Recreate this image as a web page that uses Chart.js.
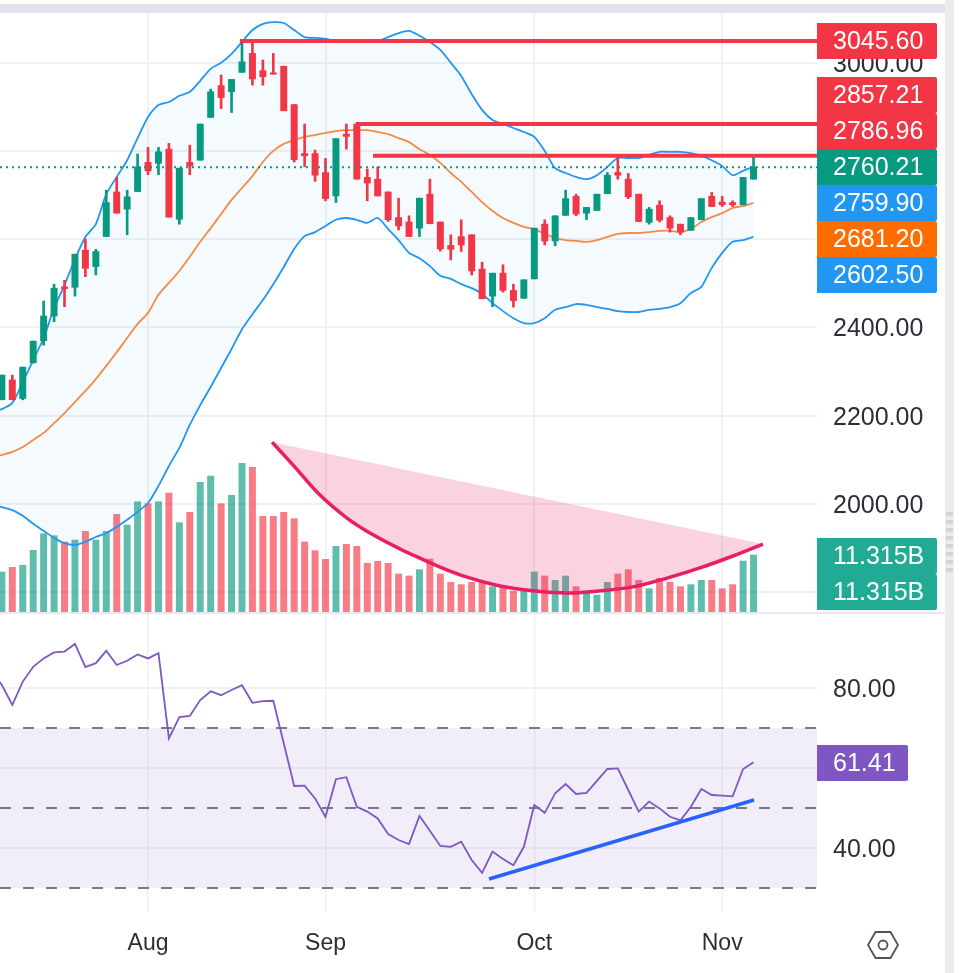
<!DOCTYPE html>
<html>
<head>
<meta charset="utf-8">
<title>Chart</title>
<script src="https://cdn.jsdelivr.net/npm/chart.js@4"></script>
<style>
    html, body { margin: 0; padding: 0; background: #fff; }
    body { position: relative; width: 960px; height: 973px; overflow: hidden; }
    #topBar { position: absolute; left: 0; top: 4px; width: 945px; height: 9px; background: #e0e3eb; }
    #separator { position: absolute; left: 0; top: 612px; width: 945px; height: 2px; background: #e6e8f0; }
    #scrollBar { position: absolute; left: 945px; top: 0; width: 9px; height: 973px; background: #ececec; }
    #scrollGrip { position: absolute; left: 946px; top: 512px; width: 7px; height: 64px;
        background: repeating-linear-gradient(#d5d5d5 0 4px, #ececec 4px 8px); }
    #priceChart { position: absolute; left: 0; top: 13px; }
    #rsiChart { position: absolute; left: 0; top: 613px; }
    #settings { position: absolute; left: 867px; top: 929px; }
</style>
</head>
<body>
<div id="topBar"></div>
<canvas id="priceChart" width="945" height="599"></canvas>
<canvas id="rsiChart" width="945" height="360"></canvas>
<div id="separator"></div>
<div id="scrollBar"></div>
<div id="scrollGrip"></div>
<svg id="settings" width="32" height="32" viewBox="0 0 32 32">
    <path d="M 1,16 L 8.5,3 L 23.5,3 L 31,16 L 23.5,29 L 8.5,29 Z" fill="none" stroke="#50535e" stroke-width="1.8"/>
    <circle cx="16" cy="16" r="4.5" fill="none" stroke="#50535e" stroke-width="1.8"/>
</svg>
<script>
const GREEN = '#089981';
const RED = '#f23645';
const BLUE = '#2196f3';
const FIRST_BAR = -15; // bar 0 = 1 Aug, bar -15 sits just off the left edge
const X_MIN = -14.18;
const X_MAX = 64.08;
const MONTHS = { 0: 'Aug', 17: 'Sep', 37: 'Oct', 55: 'Nov' };
const TICK_FONT = { family: 'Liberation Sans', size: 25 };

// --- DATA ---
// open, high, low, close
const candles = [
    [2290, 2300, 2250, 2270],
    [2236, 2292, 2236, 2292], [2281, 2292, 2236, 2236], [2239, 2310, 2236, 2310], [2320, 2369, 2319, 2369],
    [2370, 2460, 2360, 2426], [2426, 2498, 2413, 2489], [2492, 2507, 2447, 2488], [2491, 2566, 2471, 2566],
    [2575, 2600, 2515, 2534], [2538, 2577, 2519, 2572], [2606, 2711, 2606, 2683], [2707, 2740, 2659, 2659],
    [2668, 2711, 2610, 2696], [2708, 2793, 2708, 2764], [2774, 2808, 2746, 2755], [2772, 2808, 2746, 2798],
    [2804, 2817, 2650, 2650], [2645, 2761, 2634, 2761], [2774, 2813, 2746, 2766], [2779, 2861, 2779, 2861],
    [2876, 2940, 2876, 2934], [2948, 2972, 2896, 2921], [2934, 2962, 2887, 2962], [2978, 3050, 2978, 3002],
    [3021, 3049, 2949, 2963], [2982, 3006, 2949, 2968], [2977, 3021, 2974, 2974], [2992, 2992, 2891, 2891],
    [2905, 2905, 2775, 2780], [2794, 2861, 2764, 2789], [2794, 2802, 2731, 2745], [2751, 2783, 2687, 2692],
    [2698, 2828, 2683, 2828], [2838, 2861, 2804, 2833], [2861, 2861, 2736, 2736], [2740, 2759, 2687, 2727],
    [2736, 2764, 2698, 2698], [2707, 2707, 2640, 2644], [2649, 2693, 2621, 2630], [2639, 2653, 2606, 2606],
    [2625, 2693, 2606, 2693], [2702, 2736, 2635, 2635], [2639, 2639, 2573, 2578], [2586, 2610, 2553, 2577],
    [2606, 2644, 2572, 2587], [2610, 2610, 2519, 2528], [2532, 2548, 2465, 2465], [2471, 2523, 2447, 2523],
    [2523, 2542, 2480, 2484], [2484, 2498, 2446, 2461], [2466, 2508, 2466, 2508], [2510, 2625, 2510, 2625],
    [2634, 2644, 2587, 2596], [2596, 2653, 2585, 2653], [2654, 2711, 2654, 2692], [2697, 2702, 2653, 2657],
    [2659, 2672, 2644, 2672], [2665, 2702, 2665, 2702], [2703, 2751, 2703, 2745], [2751, 2787, 2736, 2745],
    [2736, 2749, 2692, 2696], [2702, 2702, 2640, 2640], [2638, 2672, 2634, 2668], [2677, 2687, 2639, 2643],
    [2649, 2653, 2616, 2625], [2634, 2634, 2610, 2616], [2620, 2649, 2620, 2649], [2644, 2692, 2644, 2692],
    [2697, 2706, 2674, 2674], [2684, 2697, 2674, 2678], [2683, 2687, 2674, 2678], [2678, 2740, 2678, 2740],
    [2736, 2786, 2736, 2764]
];

// in billions
const volumes = [
    7.5,
    7.94, 8.87, 9.26, 12.24, 15.55, 15.15, 13.9, 14.29, 16.01, 14.29, 16.01, 19.39, 17.27, 21.9, 21.5, 21.9,
    23.62, 17.73, 19.78, 25.74, 27, 21.5, 23.16, 29.51, 28.72, 18.99, 18.99, 19.78, 18.53, 13.9, 12.18, 10.45,
    13.04, 13.43, 13.04, 9.66, 10.06, 9.66, 7.54, 7.15, 8.4, 10.52, 7.54, 5.89, 5.43, 5.89, 5.89, 5.03,
    5.03, 4.17, 4.17, 7.94, 7.15, 6.29, 7.15, 5.03, 4.17, 3.37, 5.89, 7.54, 8.4, 6.29, 4.63, 6.68,
    5.89, 5.03, 5.43, 6.29, 6.29, 4.63, 5.43, 10.12, 11.315
];

const bbUpper = [
    2208,
    2215, 2229, 2276, 2326, 2376, 2444, 2496, 2555, 2605, 2634, 2702, 2741, 2779, 2829, 2877, 2904,
    2911, 2925, 2934, 2959, 2986, 3000, 3020, 3047, 3074, 3088, 3092, 3090, 3074, 3058, 3056, 3054,
    3049, 3049, 3049, 3047, 3049, 3058, 3067, 3072, 3061, 3047, 3029, 3000, 2970, 2929, 2893, 2870,
    2861, 2852, 2843, 2832, 2800, 2761, 2750, 2741, 2736, 2745, 2764, 2784, 2784, 2784, 2791, 2798,
    2798, 2798, 2795, 2789, 2779, 2766, 2745, 2755, 2764
];
const bbMiddle = [
    2105,
    2111, 2118, 2129, 2145, 2161, 2183, 2206, 2231, 2256, 2283, 2313, 2344, 2376, 2408, 2433, 2474,
    2501, 2528, 2560, 2594, 2625, 2657, 2689, 2716, 2743, 2775, 2800, 2816, 2825, 2832, 2836, 2841,
    2845, 2847, 2847, 2847, 2843, 2838, 2829, 2820, 2804, 2791, 2773, 2750, 2730, 2707, 2684, 2664,
    2648, 2637, 2628, 2623, 2612, 2603, 2598, 2596, 2594, 2598, 2605, 2612, 2614, 2614, 2616, 2619,
    2619, 2616, 2623, 2639, 2650, 2659, 2671, 2675, 2682
];
const bbLower = [
    1998,
    1993, 1986, 1973, 1955, 1939, 1923, 1911, 1907, 1914, 1925, 1934, 1948, 1964, 1982, 2002, 2041,
    2086, 2127, 2179, 2224, 2265, 2308, 2351, 2396, 2430, 2462, 2498, 2537, 2578, 2607, 2616, 2630,
    2644, 2648, 2644, 2637, 2648, 2623, 2598, 2569, 2557, 2539, 2517, 2510, 2498, 2489, 2476, 2455,
    2437, 2421, 2410, 2410, 2421, 2440, 2446, 2453, 2451, 2446, 2442, 2437, 2435, 2435, 2440, 2442,
    2446, 2455, 2478, 2492, 2535, 2569, 2594, 2598, 2605
];

const rsi = [
    84,
    80.75, 75.75, 81.6, 85.3, 87.4, 88.9, 89.1, 91, 85.2, 86.2, 89.3, 85.75, 86.8, 88.4, 87.4, 88.7,
    67.4, 72.7, 73, 77, 79.2, 78.2, 79.5, 80.7, 76.3, 76.7, 76.8, 66.2, 55.5, 55.6, 52.4, 47.8,
    57.2, 57.7, 50.3, 49.1, 47.4, 43.5, 42, 41, 48, 44.3, 40.5, 40.3, 41.6, 37, 33.8, 39.1,
    37.25, 35.7, 40.3, 50.75, 48.8, 53.7, 56, 53.5, 53.8, 56.8, 59.75, 59.9, 54.5, 49.1, 51.6, 49.9,
    47.8, 46.9, 50.3, 54.75, 53.25, 53.1, 52.9, 59.75, 61.41
];

// hand drawn objects on the chart: [bar, value]
const resistanceLines = [
    { from: 8.8, value: 3049 },
    { from: 19.9, value: 2861 },
    { from: 21.55, value: 2789 }
];
const cupCurve = [
    [11.88, 2140], [13.9, 2088], [16.47, 2020], [19.06, 1968], [21.55, 1930], [24.14, 1898], [26.05, 1877],
    [27.97, 1857], [30.56, 1834], [33.72, 1814], [36.88, 1803], [40.13, 1798], [43.3, 1803], [46.46, 1812],
    [49.71, 1832], [52.87, 1855], [56.03, 1882], [58.9, 1909]
];
const rsiTrend = [[32.66, 32.25], [58.05, 52]];

// price tags on the axis, y = page pixel of the top edge
const priceTags = [
    { text: '3045.60', y: 23, color: RED },
    { text: '2857.21', y: 77, color: RED },
    { text: '2786.96', y: 113, color: RED },
    { text: '2760.21', y: 149, color: GREEN },
    { text: '2759.90', y: 185, color: BLUE },
    { text: '2681.20', y: 221, color: '#ff6d00' },
    { text: '2602.50', y: 257, color: BLUE },
    { text: '11.315B', y: 538, color: '#22ab94' },
    { text: '11.315B', y: 574, color: '#22ab94' }
];
const rsiTags = [{ text: '61.41', y: 745, color: '#7e57c2', width: 91 }];

// --- HELPERS ---
const barX = (i) => FIRST_BAR + i;
const series = (values) => values.map((v, i) => ({ x: barX(i), y: v }));
const candleColor = (c) => (c[3] >= c[0] ? GREEN : RED);
const pairs = (list) => list.map(p => ({ x: p[0], y: p[1] }));
const flatLine = (value) => [{ x: X_MIN, y: value }, { x: X_MAX, y: value }];

function lineSet(data, color, width, extra) {
    return Object.assign({
        type: 'line', data: data, borderColor: color, borderWidth: width,
        pointRadius: 0, fill: false, order: 1, clip: true
    }, extra);
}

function tagPlugin(tags, pageTop) {
    return {
        id: 'axisTags',
        afterDraw(chart) {
            const ctx = chart.ctx;
            const left = chart.chartArea.right;
            ctx.save();
            tags.forEach(tag => {
                ctx.fillStyle = tag.color;
                ctx.beginPath();
                ctx.roundRect(left, tag.y - pageTop, tag.width || 120, 36, [0, 2, 2, 0]);
                ctx.fill();
                ctx.fillStyle = '#fff';
                ctx.font = '25px "Liberation Sans"';
                ctx.textBaseline = 'middle';
                ctx.fillText(tag.text, left + 16, tag.y - pageTop + 19);
            });
            ctx.restore();
        }
    };
}

function monthTicks(scale) {
    scale.ticks = Object.keys(MONTHS).map(k => ({ value: Number(k) }));
}

// fixed axis strip, and no label overhang taken out of the plot height
function fitRightAxis(scale) {
    scale.width = 128;
    scale.paddingTop = 0;
    scale.paddingBottom = 0;
}

function baseOptions(scales) {
    return {
        responsive: false,
        animation: false,
        events: [],
        layout: { padding: 0 },
        plugins: { legend: { display: false }, tooltip: { enabled: false } },
        scales: scales
    };
}

// --- PRICE + VOLUME PANE ---
new Chart(document.getElementById('priceChart'), {
    type: 'bar',
    data: {
        datasets: [
            lineSet(series(bbUpper), BLUE, 1.8, {
                fill: '+2', backgroundColor: 'rgba(33,150,243,0.05)', tension: 0.25, order: 5
            }),
            lineSet(series(bbMiddle), '#ff8a3c', 1.8, { tension: 0.25, order: 5 }),
            lineSet(series(bbLower), BLUE, 1.8, { tension: 0.25, order: 5 }),
            {
                data: volumes.map((v, i) => ({ x: barX(i), y: v })),
                yAxisID: 'yVolume',
                backgroundColor: candles.map(c => candleColor(c) === GREEN ? 'rgba(8,153,129,0.65)' : 'rgba(242,54,69,0.65)'),
                barThickness: 6.3,
                grouped: false,
                order: 6
            },
            {
                data: candles.map((c, i) => ({ x: barX(i), y: [c[2], c[1]] })),
                backgroundColor: candles.map(candleColor),
                barThickness: 2,
                grouped: false,
                order: 3
            },
            {
                data: candles.map((c, i) => ({ x: barX(i), y: [c[0], c[3]] })),
                backgroundColor: candles.map(candleColor),
                barThickness: 6.3,
                grouped: false,
                order: 2
            },
            lineSet(flatLine(2763), GREEN, 2, { borderDash: [2, 4] }),
            ...resistanceLines.map(l => lineSet([{ x: l.from, y: l.value }, { x: X_MAX, y: l.value }], RED, 4)),
            lineSet(pairs(cupCurve), 'rgba(0,0,0,0)', 0, { fill: 'shape', backgroundColor: 'rgba(233,30,99,0.2)', cubicInterpolationMode: 'monotone' }),
            lineSet(pairs(cupCurve), '#e91e63', 3.5, { cubicInterpolationMode: 'monotone' })
        ]
    },
    options: baseOptions({
        x: {
            type: 'linear', min: X_MIN, max: X_MAX, offset: false,
            afterBuildTicks: monthTicks,
            afterFit: (scale) => { scale.height = 0; },
            grid: { color: '#f0f1f5', lineWidth: 2, offset: false, drawTicks: false },
            border: { display: false },
            ticks: { display: false }
        },
        y: {
            type: 'linear', position: 'right', min: 1755.1, max: 3112.6,
            afterBuildTicks: (scale) => {
                scale.ticks = [1800, 2000, 2200, 2400, 2600, 2800, 3000].map(v => ({ value: v }));
            },
            afterFit: fitRightAxis,
            grid: { color: '#f0f1f5', lineWidth: 2, drawTicks: false },
            border: { display: false },
            ticks: {
                color: '#2a2e39', font: TICK_FONT, padding: 16, labelOffset: 2,
                callback: (v) => ([1800, 2600, 2800].includes(v) ? '' : v.toFixed(2))
            }
        },
        yVolume: { display: false, min: 0, max: 118.9 }
    }),
    plugins: [tagPlugin(priceTags, 13)]
});

// --- RSI PANE ---
new Chart(document.getElementById('rsiChart'), {
    type: 'line',
    data: {
        datasets: [
            lineSet(flatLine(70), '#787b86', 1.8, {
                borderDash: [11, 12], fill: '+2', backgroundColor: 'rgba(126,87,194,0.1)', order: 3
            }),
            lineSet(flatLine(50), '#787b86', 1.8, { borderDash: [11, 12], order: 3 }),
            lineSet(flatLine(30), '#787b86', 1.8, { borderDash: [11, 12], order: 3 }),
            lineSet(series(rsi), '#7e57c2', 1.8, { order: 2 }),
            lineSet(pairs(rsiTrend), '#2962ff', 3.5)
        ]
    },
    options: baseOptions({
        x: {
            type: 'linear', min: X_MIN, max: X_MAX,
            afterBuildTicks: monthTicks,
            afterFit: (scale) => { scale.height = 61; },
            grid: { color: '#f0f1f5', lineWidth: 1.5, drawTicks: false },
            border: { display: false },
            ticks: {
                color: '#2a2e39', font: { family: 'Liberation Sans', size: 23 }, padding: 18,
                maxRotation: 0, autoSkip: false,
                callback: (v) => MONTHS[v]
            }
        },
        y: {
            type: 'linear', position: 'right', min: 24, max: 98.75,
            afterBuildTicks: (scale) => {
                scale.ticks = [40, 60, 80].map(v => ({ value: v }));
            },
            afterFit: fitRightAxis,
            grid: { color: '#f0f1f5', lineWidth: 2, drawTicks: false },
            border: { display: false },
            ticks: {
                color: '#2a2e39', font: TICK_FONT, padding: 16, labelOffset: 2,
                callback: (v) => (v === 60 ? '' : v.toFixed(2))
            }
        }
    }),
    plugins: [tagPlugin(rsiTags, 613)]
});
</script>
</body>
</html>
